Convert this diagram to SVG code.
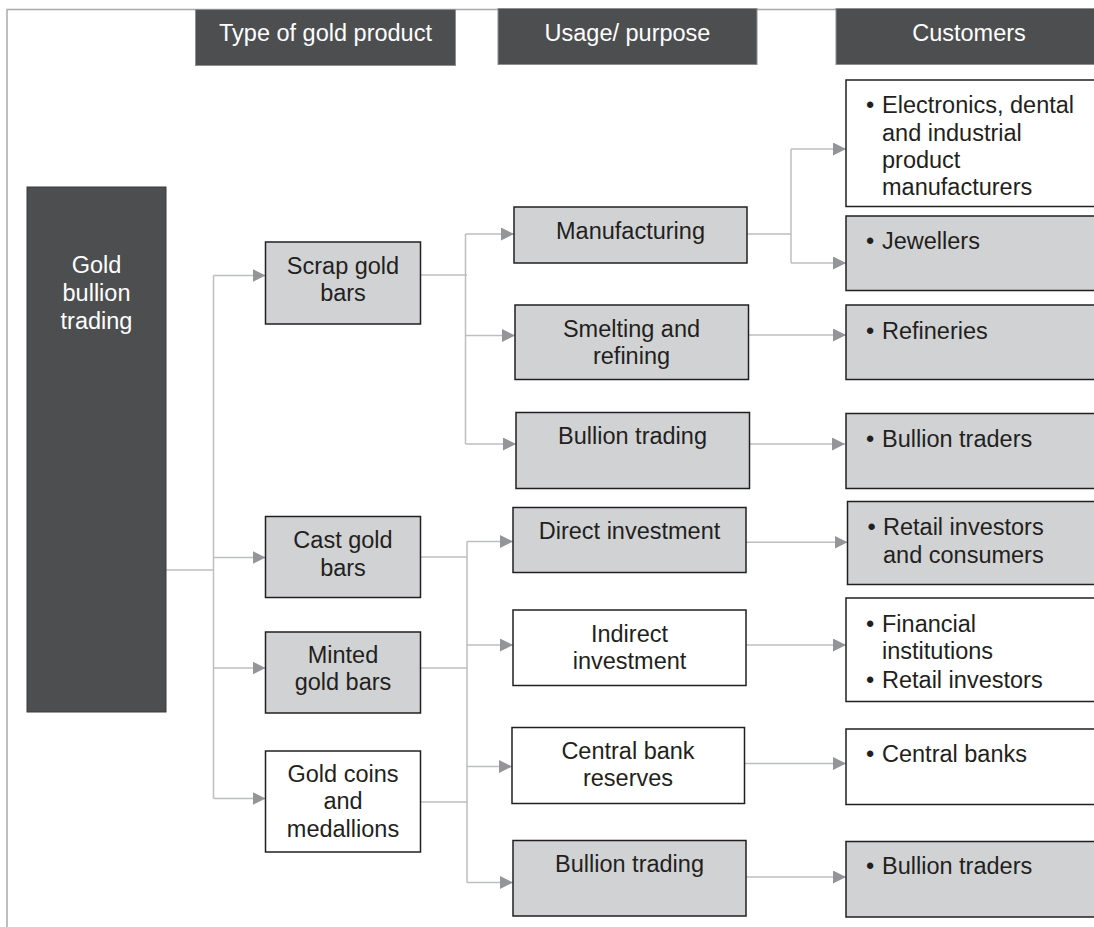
<svg xmlns="http://www.w3.org/2000/svg" width="1094" height="927" viewBox="0 0 1094 927">
  <defs>
    <style>
      text { font-family: "Liberation Sans", Arial, sans-serif; font-size: 23.5px; fill: #231f20; }
      .hd { fill: #4d4e50; stroke: #8d8e90; stroke-width: 1; }
      .hdt { fill: #ffffff; text-anchor: middle; }
      .root { fill: #4d4e50; stroke: #3a3a3c; stroke-width: 1; }
      .gray { fill: #d1d2d4; stroke: #231f20; stroke-width: 1.5; }
      .white { fill: #ffffff; stroke: #231f20; stroke-width: 1.5; }
      .c { text-anchor: middle; }
      .conn { fill: none; stroke: #bcbec0; stroke-width: 1.5; }
      .frame { fill: none; stroke: #a7a9ac; stroke-width: 1.5; }
    </style>
    <marker id="arrow" viewBox="0 0 13 13" refX="13" refY="6.5" markerWidth="13" markerHeight="13" markerUnits="userSpaceOnUse" orient="auto">
      <path d="M0,0 L13,6.5 L0,13 Z" fill="#939598"/>
    </marker>
  </defs>

  <!-- outer frame -->
  <path class="frame" d="M7,927 V9.5 H1094"/>

  <!-- column headers -->
  <g id="header-type">
    <rect class="hd" x="195.5" y="9.5" width="260" height="56"/>
    <text class="hdt" x="325.5" y="41">Type of gold product</text>
  </g>
  <g id="header-usage">
    <rect class="hd" x="498" y="8.5" width="259" height="56"/>
    <text class="hdt" x="627.5" y="41">Usage/ purpose</text>
  </g>
  <g id="header-customers">
    <rect class="hd" x="836" y="8.5" width="266" height="56"/>
    <text class="hdt" x="969" y="41">Customers</text>
  </g>

  <!-- connectors -->
  <g id="connectors">
    <!-- root to product types -->
    <path class="conn" d="M166,570 H213.5"/>
    <path class="conn" d="M213.5,275.5 V798.5"/>
    <path class="conn" d="M213.5,275.5 H265.5" marker-end="url(#arrow)"/>
    <path class="conn" d="M213.5,557.5 H265.5" marker-end="url(#arrow)"/>
    <path class="conn" d="M213.5,668 H265.5" marker-end="url(#arrow)"/>
    <path class="conn" d="M213.5,798.5 H265.5" marker-end="url(#arrow)"/>

    <!-- scrap gold bars to usages -->
    <path class="conn" d="M421,275 H467"/>
    <path class="conn" d="M465.5,234 V444"/>
    <path class="conn" d="M465.5,234 H514" marker-end="url(#arrow)"/>
    <path class="conn" d="M465.5,335.5 H515" marker-end="url(#arrow)"/>
    <path class="conn" d="M465.5,444 H516" marker-end="url(#arrow)"/>

    <!-- cast, minted, coins to usages -->
    <path class="conn" d="M420.5,557 H467"/>
    <path class="conn" d="M420.5,668 H467"/>
    <path class="conn" d="M420.5,802 H467"/>
    <path class="conn" d="M467,541.5 V882.5"/>
    <path class="conn" d="M467,541.5 H513" marker-end="url(#arrow)"/>
    <path class="conn" d="M467,645 H513" marker-end="url(#arrow)"/>
    <path class="conn" d="M467,766.5 H512" marker-end="url(#arrow)"/>
    <path class="conn" d="M467,882.5 H513" marker-end="url(#arrow)"/>

    <!-- manufacturing to customers -->
    <path class="conn" d="M747,234 H791"/>
    <path class="conn" d="M791,149 V263"/>
    <path class="conn" d="M791,149 H846" marker-end="url(#arrow)"/>
    <path class="conn" d="M791,263 H846" marker-end="url(#arrow)"/>

    <!-- other usages to customers -->
    <path class="conn" d="M748.5,335 H846" marker-end="url(#arrow)"/>
    <path class="conn" d="M749.5,444 H845" marker-end="url(#arrow)"/>
    <path class="conn" d="M746,542.3 H847.5" marker-end="url(#arrow)"/>
    <path class="conn" d="M746,645 H846" marker-end="url(#arrow)"/>
    <path class="conn" d="M744.5,763.5 H846" marker-end="url(#arrow)"/>
    <path class="conn" d="M746,877 H846" marker-end="url(#arrow)"/>
  </g>

  <!-- root -->
  <g id="gold-bullion-trading">
    <rect class="root" x="27" y="187" width="139" height="525"/>
    <text class="hdt" x="96.5" y="273">Gold</text>
    <text class="hdt" x="96.5" y="301">bullion</text>
    <text class="hdt" x="96.5" y="329">trading</text>
  </g>

  <!-- product types -->
  <g id="scrap-gold-bars">
    <rect class="gray" x="265.5" y="242" width="155" height="82"/>
    <text class="c" x="343" y="273.5">Scrap gold</text>
    <text class="c" x="343" y="300.5">bars</text>
  </g>
  <g id="cast-gold-bars">
    <rect class="gray" x="265.5" y="516.5" width="155" height="81"/>
    <text class="c" x="343" y="548">Cast gold</text>
    <text class="c" x="343" y="575.5">bars</text>
  </g>
  <g id="minted-gold-bars">
    <rect class="gray" x="265.5" y="632" width="155" height="81"/>
    <text class="c" x="343" y="662.5">Minted</text>
    <text class="c" x="343" y="690">gold bars</text>
  </g>
  <g id="gold-coins">
    <rect class="white" x="265.5" y="751" width="155" height="101"/>
    <text class="c" x="343" y="781.5">Gold coins</text>
    <text class="c" x="343" y="809">and</text>
    <text class="c" x="343" y="836.5">medallions</text>
  </g>

  <!-- usages -->
  <g id="manufacturing">
    <rect class="gray" x="514" y="207" width="233" height="56"/>
    <text class="c" x="630.5" y="239">Manufacturing</text>
  </g>
  <g id="smelting-refining">
    <rect class="gray" x="515" y="305" width="233.5" height="74.5"/>
    <text class="c" x="631.5" y="336.5">Smelting and</text>
    <text class="c" x="631.5" y="363.5">refining</text>
  </g>
  <g id="bullion-trading-1">
    <rect class="gray" x="516" y="412.5" width="233.5" height="76"/>
    <text class="c" x="632.5" y="443.5">Bullion trading</text>
  </g>
  <g id="direct-investment">
    <rect class="gray" x="513" y="507.5" width="233" height="65"/>
    <text class="c" x="629.5" y="538.5">Direct investment</text>
  </g>
  <g id="indirect-investment">
    <rect class="white" x="513" y="610" width="233" height="75.5"/>
    <text class="c" x="629.5" y="641.5">Indirect</text>
    <text class="c" x="629.5" y="668.5">investment</text>
  </g>
  <g id="central-bank-reserves">
    <rect class="white" x="512" y="727.5" width="232.5" height="76"/>
    <text class="c" x="628" y="758.5">Central bank</text>
    <text class="c" x="628" y="786">reserves</text>
  </g>
  <g id="bullion-trading-2">
    <rect class="gray" x="513" y="840.5" width="233" height="75.5"/>
    <text class="c" x="629.5" y="871.5">Bullion trading</text>
  </g>

  <!-- customers -->
  <g id="manufacturers">
    <rect class="white" x="846" y="80" width="256" height="126.5"/>
    <text x="866" y="113">•</text>
    <text x="882" y="113">Electronics, dental</text>
    <text x="882" y="140.5">and industrial</text>
    <text x="882" y="168">product</text>
    <text x="882" y="195">manufacturers</text>
  </g>
  <g id="jewellers">
    <rect class="gray" x="846" y="216" width="256" height="74.5"/>
    <text x="866" y="248.5">•</text>
    <text x="882" y="248.5">Jewellers</text>
  </g>
  <g id="refineries">
    <rect class="gray" x="846" y="305" width="256" height="74.5"/>
    <text x="866" y="338.5">•</text>
    <text x="882" y="338.5">Refineries</text>
  </g>
  <g id="bullion-traders-1">
    <rect class="gray" x="846" y="413.5" width="256" height="75"/>
    <text x="866" y="446.5">•</text>
    <text x="882" y="446.5">Bullion traders</text>
  </g>
  <g id="retail-consumers">
    <rect class="gray" x="847.5" y="501.5" width="256" height="83"/>
    <text x="867.5" y="534.5">•</text>
    <text x="883" y="534.5">Retail investors</text>
    <text x="883" y="562.5">and consumers</text>
  </g>
  <g id="financial-institutions">
    <rect class="white" x="846" y="598" width="256" height="103.5"/>
    <text x="866" y="631.5">•</text>
    <text x="882" y="631.5">Financial</text>
    <text x="882" y="658.5">institutions</text>
    <text x="866" y="687.5">•</text>
    <text x="882" y="687.5">Retail investors</text>
  </g>
  <g id="central-banks">
    <rect class="white" x="846" y="729" width="256" height="75.5"/>
    <text x="866" y="761.5">•</text>
    <text x="882" y="761.5">Central banks</text>
  </g>
  <g id="bullion-traders-2">
    <rect class="gray" x="846" y="841.5" width="256" height="75.5"/>
    <text x="866" y="874">•</text>
    <text x="882" y="874">Bullion traders</text>
  </g>
</svg>
